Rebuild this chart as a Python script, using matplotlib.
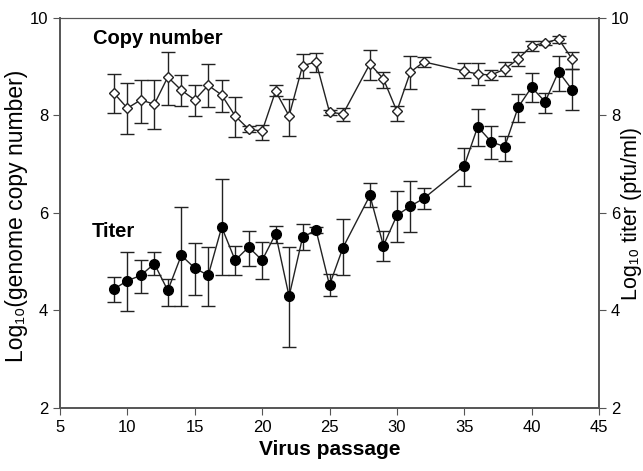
import numpy as np
import matplotlib.pyplot as plt

plt.rcParams['font.family'] = ['Liberation Sans', 'DejaVu Sans']

# passages
passage = [9, 10, 11, 12, 13, 14, 15, 16, 17, 18, 19, 20, 21, 22, 23, 24, 25, 26,
           28, 29, 30, 31, 32, 35, 36, 37, 38, 39, 40, 41, 42, 43]

# log10 genome copy number
copy_num = [8.46, 8.15, 8.32, 8.23, 8.79, 8.52, 8.32, 8.62, 8.42, 7.99, 7.72, 7.68,
            8.50, 7.99, 9.02, 9.10, 8.07, 8.03,
            9.06, 8.75, 8.09, 8.89, 9.10, 8.91, 8.85, 8.83, 8.95, 9.16, 9.43, 9.49, 9.57, 9.16]
copy_hi = [8.85, 8.67, 8.73, 8.73, 9.30, 8.83, 8.62, 9.06, 8.73, 8.38, 7.78, 7.80,
           8.62, 8.34, 9.26, 9.28, 8.12, 8.15,
           9.35, 8.89, 8.19, 9.22, 9.20, 9.07, 9.07, 8.93, 9.10, 9.30, 9.53, 9.53, 9.63, 9.30]
copy_lo = [8.05, 7.62, 7.84, 7.72, 8.21, 8.19, 7.99, 8.17, 8.07, 7.56, 7.66, 7.50,
           8.39, 7.58, 8.77, 8.89, 8.02, 7.88,
           8.73, 8.56, 7.88, 8.54, 9.00, 8.77, 8.62, 8.73, 8.81, 9.02, 9.33, 9.45, 9.49, 8.95]

# log10 titer (pfu/ml)
titer = [4.44, 4.61, 4.72, 4.96, 4.41, 5.13, 4.87, 4.72, 5.71, 5.03, 5.30, 5.03,
         5.57, 4.29, 5.50, 5.65, 4.52, 5.29,
         6.36, 5.33, 5.95, 6.14, 6.30, 6.97, 7.77, 7.46, 7.36, 8.17, 8.58, 8.28, 8.90, 8.53]
titer_hi = [4.69, 5.20, 5.03, 5.20, 4.65, 6.13, 5.39, 5.31, 6.69, 5.32, 5.63, 5.41,
            5.73, 5.30, 5.78, 5.72, 4.74, 5.87,
            6.62, 5.63, 6.45, 6.66, 6.52, 7.33, 8.13, 7.79, 7.58, 8.44, 8.87, 8.47, 9.23, 8.95]
titer_lo = [4.17, 3.98, 4.36, 4.72, 4.10, 4.10, 4.31, 4.10, 4.72, 4.72, 4.91, 4.65,
            5.39, 3.26, 5.24, 5.58, 4.29, 4.72,
            6.13, 5.02, 5.40, 5.61, 6.09, 6.55, 7.38, 7.10, 7.07, 7.87, 8.27, 8.06, 8.51, 8.12]

x = np.array(passage)
c = np.array(copy_num)
t = np.array(titer)
c_err = [c - np.array(copy_lo), np.array(copy_hi) - c]
t_err = [t - np.array(titer_lo), np.array(titer_hi) - t]

fig = plt.figure(figsize=(6.43, 4.71), dpi=100)
ax = fig.add_axes([0.0933, 0.1338, 0.8383, 0.828])
ax2 = ax.twinx()

ax.errorbar(x, c, yerr=c_err, color='#222222', lw=1, marker='D', ms=5.5,
            mfc='white', mec='#222222', mew=1, capsize=5, capthick=1, elinewidth=1)
ax.errorbar(x, t, yerr=t_err, color='#222222', lw=1, marker='o', ms=7,
            mfc='black', mec='black', capsize=5, capthick=1, elinewidth=1)

for a in (ax, ax2):
    a.set_ylim(2, 10)
    a.set_yticks([2, 4, 6, 8, 10])
    a.tick_params(labelsize=12, direction='out', length=5, color='#555555')
    for s in a.spines.values():
        s.set_color('#555555')
        s.set_linewidth(1.2)
ax.set_xlim(5, 45)
ax.set_xticks([5, 10, 15, 20, 25, 30, 35, 40, 45])
ax.spines['top'].set_linewidth(0.8)
ax2.spines['top'].set_linewidth(0.8)

ax.set_xlabel('Virus passage', fontsize=15, fontweight='bold', labelpad=4)
fig.text(17 / 643, 1 - 216 / 471, 'Log₁₀(genome copy number)', fontsize=16.5,
         rotation=90, ha='center', va='center')
fig.text(632 / 643, 1 - 214 / 471, 'Log₁₀ titer (pfu/ml)', fontsize=15.5,
         rotation=90, ha='center', va='center')

ax.text(7.45, 9.58, 'Copy number', fontsize=14.5, fontweight='bold', va='center')
ax.text(7.35, 5.63, 'Titer', fontsize=14.5, fontweight='bold', va='center')

fig.savefig('out.png', dpi=100)
